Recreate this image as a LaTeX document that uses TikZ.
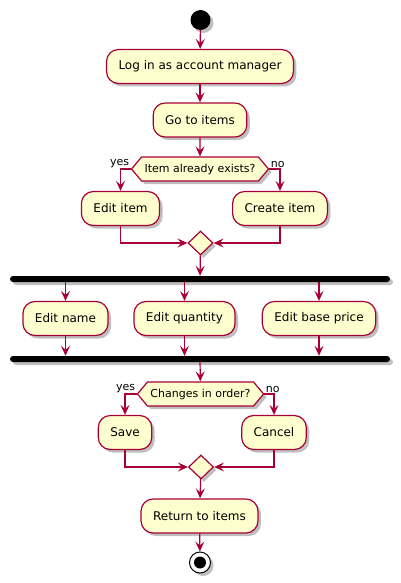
\documentclass[tikz,border=0pt]{standalone}
\usepackage{fontspec}
\setmainfont{DejaVu Sans}
\usetikzlibrary{arrows.meta,shapes.geometric,shapes.symbols,shadows}
\definecolor{umlred}{HTML}{A80036}
\definecolor{umlfill}{HTML}{FEFECE}
\tikzset{
  umlshadow/.style={drop shadow={shadow xshift=3pt,shadow yshift=-3pt,opacity=0.25,fill=black}},
  act/.style={draw=umlred,fill=umlfill,line width=1.2pt,rounded corners=12pt,
    minimum height=34pt,inner xsep=12pt,font=\fontsize{12}{14}\selectfont,umlshadow},
  choice/.style={signal,signal to=east and west,signal pointer angle=100,draw=umlred,
    fill=umlfill,line width=1.2pt,minimum height=24pt,inner xsep=3pt,inner ysep=0pt,
    font=\fontsize{11}{13}\selectfont,umlshadow},
  merge/.style={diamond,draw=umlred,fill=umlfill,line width=1.2pt,minimum width=25pt,
    minimum height=24pt,inner sep=0pt,umlshadow},
  bar/.style={fill=black,rounded corners=3pt,minimum width=380pt,minimum height=6pt,
    inner sep=0pt,umlshadow},
  startdot/.style={circle,fill=black,minimum size=20pt,inner sep=0pt,umlshadow},
  stopdot/.style={circle,draw=black,fill=white,line width=1pt,minimum size=21pt,inner sep=0pt,
    umlshadow,path picture={\fill[black] (path picture bounding box.center) circle (6pt);}},
  lbl/.style={font=\fontsize{11}{13}\selectfont,inner sep=1pt},
  flow/.style={draw=umlred,line width=1.2pt,-{Stealth[length=10pt,width=9pt,inset=4pt]}}
}
\begin{document}
\begin{tikzpicture}[x=1pt,y=-1pt]
      \useasboundingbox (0,0) rectangle (400,583);
      \draw
        (200.5,20) node[startdot] (start){}
        (200,66.5) node[act] (login){Log in as account manager}
        (200,120) node[act] (goto){Go to items}
        (200,169) node[choice] (exists){Item already exists?}
        (120.5,208.5) node[act] (edititem){Edit item}
        (280,208.5) node[act] (createitem){Create item}
        (200.5,243) node[merge] (merge1){}
        (200,279) node[bar] (fork){}
        (65.5,318.5) node[act] (editname){Edit name}
        (184.5,318.5) node[act] (editqty){Edit quantity}
        (319,318.5) node[act] (editprice){Edit base price}
        (200,359) node[bar] (join){}
        (200.5,394) node[choice] (changes){Changes in order?}
        (125,432.5) node[act] (save){Save}
        (274,432.5) node[act] (cancel){Cancel}
        (201,467) node[merge] (merge2){}
        (199.5,516) node[act] (return){Return to items}
        (200,562.5) node[stopdot] (stop){};
      \begin{scope}[flow]
        \draw (start) to (login);
        \draw (login) to (goto);
        \draw (goto) to (exists);
        \draw (exists.west) node[lbl,anchor=south east]{yes} -| (edititem);
        \draw (exists.east) node[lbl,anchor=south west]{no} -| (createitem);
        \draw (edititem) |- (merge1);
        \draw (createitem) |- (merge1);
        \draw (merge1) to (fork);
        \draw (fork.south -| editname) to (editname);
        \draw (fork.south -| editqty) to (editqty);
        \draw (fork.south -| editprice) to (editprice);
        \draw (editname) to (join.north -| editname);
        \draw (editqty) to (join.north -| editqty);
        \draw (editprice) to (join.north -| editprice);
        \draw (join) to (changes);
        \draw (changes.west) node[lbl,anchor=south east]{yes} -| (save);
        \draw (changes.east) node[lbl,anchor=south west]{no} -| (cancel);
        \draw (save) |- (merge2);
        \draw (cancel) |- (merge2);
        \draw (merge2) to (return);
        \draw (return) to (stop);
      \end{scope}
    \end{tikzpicture}
\end{document}
